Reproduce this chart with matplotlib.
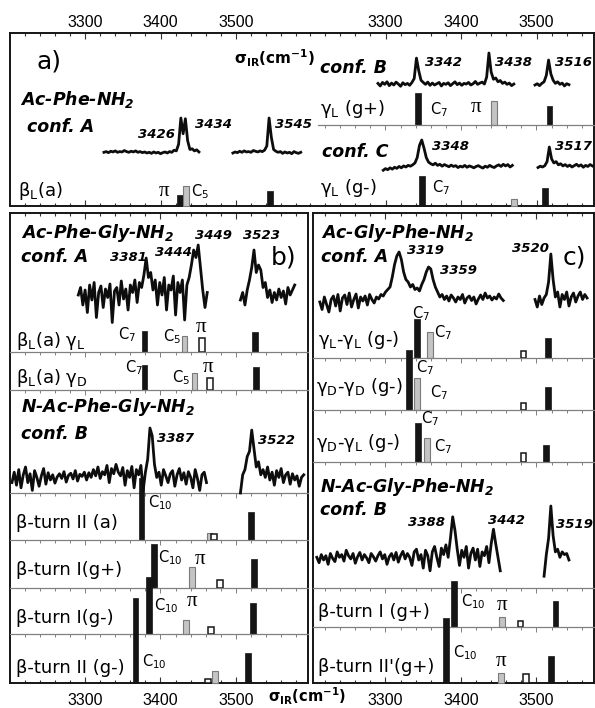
import numpy as np
import matplotlib
matplotlib.use("Agg")
import matplotlib.pyplot as plt
from matplotlib.ticker import FixedLocator, MultipleLocator

plt.rcParams['font.family'] = ['DejaVu Sans']
plt.rcParams['mathtext.default'] = 'regular'

# ------------------------------------------------------------------ data
STEP = 3

# a) Ac-Phe-NH2 conf. A
tA_start = [3325, 3496]
tA_seg1 = [2, 4, 1, 5, 3, 6, 2, 4, 3, 7, 4, 2, 5, 3, 6, 2, 4, 1, 3, 0, 2, -1, 3, 0, 2,
           -2, 1, 3, 0, 4, 2, 8, 6, 25, 100, 55, 98, 35, 10, 12, 6, 9, 3]
tA_seg2 = [0, 3, 1, 5, 2, 6, 3, 4, 2, 7, 5, 3, 6, 4, 8, 20, 100, 45, 10, 5, 2, 4, -1, 3,
           0, 2, -2, 4, 1, -1, 2]
# a) conf. B
tB_start = [3290, 3498]
tB_seg1 = [5, -3, 8, 2, 10, -2, 6, 0, 9, 3, -4, 7, 1, 5, -1, 8, 20, 84, 45, 15, 8,
           2, 9, -1, 6, 0, 4, 8, -3, 5, 2, 7, -2, 4, 10, 1, 6, -1, 5, 3, 8, 0, 4, 11, 2, 6, 9, 3,
           25, 100, 40, 18, 22, 10, 14, 5, 9, 2, 6, -2, 3]
tB_seg2 = [0, 4, -2, 5, 10, 30, 78, 35, 15, 5, 10, 2, 6, -3, 4, 1]
# a) conf. C
tC_start = [3297, 3502]
tC_seg1 = [-12, -6, -10, -3, -8, -1, -5, 2, -3, 4, 0, 6, 3, 8, 15, 35, 80, 100, 70, 35, 18, 12,
           8, 14, 6, 10, 3, 9, 5, 1, 7, 2, 5, -2, 3, 0, 6, -1, 4, 1, -3, 2, 5, 0, -4, 3, -1, 6,
           1, -2, 4, 8, 2, 10, 4, 9, 0, 6]
tC_seg2 = [-2, 3, 0, 5, 20, 74, 30, 15, 20, 8, 12, 4, 9, 2, 7, 0, 5, 10, 3, 8, -1, 6, 2, 9, 4]
# b) Ac-Phe-Gly-NH2 conf. A
tb1_start = [3291, 3506]
tb1_seg1 = [0, 15, -20, 10, -35, 20, -10, 25, -45, 5, 18, -25, 12, -5, 22, -55, 8, 15, -20,
            28, -8, 12, -30, 20, 5, 30, -15, 25, 15, 40, 74, 35, 45, 10, 30, -20, 25, 0, 35,
            -30, 20, 10, 38, -40, 25, 5, 30, -50, 20, 35, 60, 90, 75, 100, 55, 10, -25, 5]
tb1_seg2 = [-10, 5, -20, 10, 30, 55, 90, 45, 60, 50, 15, 25, -5, 10, -15, 5, -10, 12, -5, 8,
            -18, 15, 0, 10, 20]
# b) N-Ac-Phe-Gly-NH2 conf. B
tb2_start = [3203, 3506]
tb2_seg1 = [-5, 15, -10, 20, -15, 10, 25, -5, 12, -20, 18, 5, -12, 8, 22, -8, 14, 0, 10, -6,
            6, 12, 3, 16, -4, 9, 13, 2, 18, -2, 11, 7, 15, 0, 14, 5, 20, 8, 25, 3,
            16, 10, 28, -5, 22, 12, 30, 15, 8, 24, -10, 18, 5, 26, -15, 20, 10, 28, -20, 15,
            40, 100, 85, 30, 5,
            15, -10, 20, 8, -5, 12, 18, -12, 10, 22, 0, 14, -8, 16, 5, -15, 20, 3, -20, 10, 15, -5]
tb2_seg2 = [-25, 10, 20, 45, 55, 96, 60, 25, 35, 10, 20, 5, 25, 0, 15, -10, 18, 5, 22, -5,
            10, 15, -8, 12, 0, 8, -12, 5, 10]
# c) Ac-Gly-Phe-NH2 conf. A
tc1_start = [3213, 3498]
tc1_seg1 = [0, -15, 10, -5, -20, 5, 12, -8, 15, -18, 8, 14, -5, 18, -10, 5, 16, -12, 10, 2,
            12, -6, 15, 5, -2, 10, 6, 15, 12, 20, 25, 30, 50, 75, 92, 100, 85, 60, 45, 40,
            30, 35, 25, 28, 22, 35, 45, 60, 70, 66, 45, 30, 20, 10,
            15, 5, 12, 2, 14, 8, 0, 10, 5, 15, -2, 8, 12, 3, 10, -4, 6, 14, 5, 18, 8, 12, 4,
            10, 6, 16, 8, 3]
tc1_seg2 = [5, -10, 12, -5, 8, 15, 40, 96, 45, 10, 20, -10, 15, 5, 20, -8, 10, 18, 0, 12,
            20, 5, 15, 8]
# c) N-Ac-Gly-Phe-NH2 conf. B
tc2_start = [3209, 3510]
tc2_seg1 = [5, -5, 10, 0, 8, -8, 12, 3, -3, 15, 5, 10, -2, 18, 8, 2, 12, -6, 6, 14,
            0, 10, 4, -5, 12, 6, -2, 8, 15, 2, 10, -8, 6, 12, 0, 14, -4, 8, 16, 2,
            12, 5, -10, 15, 20, 0, 10, -15, 18, 8, -20, 15, 25, 5, -12, 22, 10, 28, 5, 40,
            80, 55, 20, -10, 18, 5, 25, -15, 12, 22, 0, 20, -12, 15, 8, 25, -5, 30,
            57, 30, 5, -20]
tc2_seg2 = [-30, 10, 40, 100, 45, 15, 20, 5, 15, 10, 12, 0]

# computed frequencies (cm-1), relative intensities, bar type (k: black, g: grey, o: open)
aA_wn, aA_int, aA_kind = [3426, 3434, 3545], [11, 20, 15], ['k', 'g', 'k']
aB_wn, aB_int, aB_kind = [3343, 3444, 3517], [32, 24, 19], ['k', 'g', 'k']
aC_wn, aC_int, aC_kind = [3348, 3470, 3511], [30, 7, 18], ['k', 'g', 'k']
b1_wn, b1_int, b1_kind = [3379, 3432, 3455, 3525], [21, 16, 14, 20], ['k', 'g', 'o', 'k']
b2_wn, b2_int, b2_kind = [3379, 3445, 3466, 3527], [25, 17, 12, 23], ['k', 'g', 'o', 'k']
b3_wn, b3_int, b3_kind = [3375, 3465, 3471, 3520], [62, 7, 6, 28], ['k', 'g', 'o', 'k']
b4_wn, b4_int, b4_kind = [3391, 3442, 3479, 3524], [44, 21, 8, 29], ['k', 'g', 'o', 'k']
b5_wn, b5_int, b5_kind = [3385, 3434, 3467, 3523], [57, 14, 7, 31], ['k', 'g', 'o', 'k']
b6_wn, b6_int, b6_kind = [3367, 3463, 3472, 3516], [85, 4, 12, 30], ['k', 'o', 'g', 'k']
c1_wn, c1_int, c1_kind = [3342, 3359, 3483, 3515], [39, 26, 7, 20], ['k', 'g', 'o', 'k']
c2_wn, c2_int, c2_kind = [3331, 3342, 3483, 3515], [60, 32, 7, 23], ['k', 'g', 'o', 'k']
c3_wn, c3_int, c3_kind = [3343, 3355, 3483, 3513], [39, 24, 9, 17], ['k', 'g', 'o', 'k']
c4_wn, c4_int, c4_kind = [3391, 3454, 3479, 3525], [46, 10, 6, 26], ['k', 'g', 'o', 'k']
c5_wn, c5_int, c5_kind = [3380, 3453, 3486, 3519], [65, 10, 9, 27], ['k', 'g', 'o', 'k']

major_ticks = [3300, 3400, 3500]

# ------------------------------------------------------------------ layout
W, H = 595, 708
fig = plt.figure(figsize=(W / 100, H / 100), dpi=100)

LEFT = (0.754, 160.5)    # px per cm-1, pixel x of 3400 cm-1
RIGHT = (0.755, 461.0)


def box(x0, y0, x1, y1):
    return [x0 / W, 1 - y1 / H, (x1 - x0) / W, (y1 - y0) / H]


def xl(x0, x1, m):
    k, c = m
    return (3400 + (x0 - c) / k, 3400 + (x1 - c) / k)


def frame(x0, y0, x1, y1, m, spines, labels):
    ax = fig.add_axes(box(x0, y0, x1, y1))
    ax.set_xlim(*xl(x0, x1, m))
    ax.set_ylim(0, 1)
    ax.set_yticks([])
    ax.patch.set_visible(False)
    for name, sp in ax.spines.items():
        sp.set_visible(name in spines)
        sp.set_linewidth(1.4)
        sp.set_color('#151515')
    ax.xaxis.set_major_locator(FixedLocator(major_ticks))
    ax.xaxis.set_minor_locator(MultipleLocator(20))
    ax.tick_params(axis='x', which='both', direction='in', top=True, bottom=True,
                   labeltop=(labels == 'top'), labelbottom=(labels == 'bottom'),
                   color='#333333', width=0.8, labelsize=11.5,
                   labelfontfamily='Liberation Sans')
    ax.tick_params(axis='x', which='major', length=4.5, pad=(2.5 if labels == 'top' else 7.5))
    ax.tick_params(axis='x', which='minor', length=2.5)
    return ax


def row(x0, y0, x1, y1, m, sep=True):
    ax = fig.add_axes(box(x0, y0, x1, y1))
    ax.set_xlim(*xl(x0, x1, m))
    ax.set_ylim(0, y1 - y0)
    ax.patch.set_visible(False)
    ax.set_yticks([])
    for sp in ax.spines.values():
        sp.set_visible(False)
    if sep:
        ax.spines['top'].set_visible(True)
        ax.spines['top'].set_color('#808080')
        ax.spines['top'].set_linewidth(0.9)
        ax.xaxis.set_major_locator(FixedLocator(major_ticks))
        ax.xaxis.set_minor_locator(MultipleLocator(20))
        ax.tick_params(axis='x', which='both', direction='in', top=True, bottom=False,
                       labeltop=False, labelbottom=False, color='#808080', width=0.7)
        ax.tick_params(axis='x', which='major', length=3.5)
        ax.tick_params(axis='x', which='minor', length=2.2)
    else:
        ax.set_xticks([])
    return ax


STY = {'k': dict(color='#151515', edgecolor='#151515', linewidth=0.5),
       'g': dict(color='#c4c4c4', edgecolor='#7a7a7a', linewidth=0.8),
       'o': dict(color='white', edgecolor='#151515', linewidth=1.1)}


def bars(ax, wn, inten, kind):
    for w, h, k in zip(wn, inten, kind):
        ax.bar(w, h, width=7.5, bottom=0, clip_on=False, zorder=3, **STY[k])


def trace(x0, x1, top, base, m, starts, segs):
    ax = fig.add_axes(box(x0, top, x1, base))
    ax.set_xlim(*xl(x0, x1, m))
    ax.set_ylim(0, 100)
    ax.axis('off')
    for s, seg in zip(starts, segs):
        x = s + STEP * np.arange(len(seg))
        ax.plot(x, seg, color='#0d0d0d', lw=2.0, clip_on=False,
                solid_joinstyle='round', zorder=4)


def T(x, y, s, size, **kw):
    kw.setdefault('ha', 'left')
    kw.setdefault('va', 'center')
    fig.text(x / W, 1 - y / H, s, fontsize=size, **kw)


NAME = dict(fontweight='bold', fontstyle='italic')
PEAK = dict(fontweight='bold', fontstyle='italic')
PI = dict(family='Liberation Serif')

# ---------------- frames
frame(10, 33, 310, 206, LEFT, ('left', 'top', 'bottom'), 'top')
frame(310, 33, 594, 206, RIGHT, ('right', 'top', 'bottom'), 'top')
frame(10, 213, 308, 683, LEFT, ('left', 'right', 'top', 'bottom'), 'bottom')
frame(313, 213, 594, 683, RIGHT, ('left', 'right', 'top', 'bottom'), 'bottom')

# ---------------- panel a
bars(row(10, 33, 310, 206, LEFT, sep=False), aA_wn, aA_int, aA_kind)
bars(row(310, 33, 594, 125, RIGHT, sep=False), aB_wn, aB_int, aB_kind)
bars(row(318, 125, 594, 206, RIGHT, sep=True), aC_wn, aC_int, aC_kind)
trace(10, 310, 118, 153, LEFT, tA_start, [tA_seg1, tA_seg2])
trace(310, 594, 53, 85, RIGHT, tB_start, [tB_seg1, tB_seg2])
trace(310, 594, 140, 167, RIGHT, tC_start, [tC_seg1, tC_seg2])

# ---------------- panel b
bars(row(10, 213, 308, 352, LEFT, sep=False), b1_wn, b1_int, b1_kind)
bars(row(10, 352, 308, 390, LEFT), b2_wn, b2_int, b2_kind)
row(10, 390, 308, 493, LEFT)
bars(row(10, 493, 308, 540, LEFT), b3_wn, b3_int, b3_kind)
bars(row(10, 540, 308, 588, LEFT), b4_wn, b4_int, b4_kind)
bars(row(10, 588, 308, 634, LEFT), b5_wn, b5_int, b5_kind)
bars(row(10, 634, 308, 683, LEFT), b6_wn, b6_int, b6_kind)
trace(10, 308, 245, 295, LEFT, tb1_start, [tb1_seg1, tb1_seg2])
trace(10, 308, 428, 480, LEFT, tb2_start, [tb2_seg1, tb2_seg2])

# ---------------- panel c
bars(row(313, 213, 594, 358, RIGHT, sep=False), c1_wn, c1_int, c1_kind)
bars(row(313, 358, 594, 410, RIGHT), c2_wn, c2_int, c2_kind)
bars(row(313, 410, 594, 462, RIGHT), c3_wn, c3_int, c3_kind)
row(313, 462, 594, 588, RIGHT)
bars(row(313, 588, 594, 627, RIGHT), c4_wn, c4_int, c4_kind)
bars(row(313, 627, 594, 683, RIGHT), c5_wn, c5_int, c5_kind)
trace(313, 594, 252, 302, RIGHT, tc1_start, [tc1_seg1, tc1_seg2])
trace(313, 594, 506, 560, RIGHT, tc2_start, [tc2_seg1, tc2_seg2])

# ---------------- texts: panel a
T(36, 61, 'a)', 18)
T(234, 58, r'$\sigma_{IR}$(cm$^{-1}$)', 11, fontweight='bold')
T(20, 100, r'Ac-Phe-NH$_2$', 12.5, **NAME)
T(27, 127, 'conf. A', 12.5, **NAME)
T(138, 134, '3426', 9.5, **PEAK)
T(195, 125, '3434', 9.5, **PEAK)
T(275, 125, '3545', 9.5, **PEAK)
T(18, 191, r'β$_{L}$(a)', 13)
T(159, 191, 'π', 15, **PI)
T(191, 192, r'C$_5$', 10.5)

T(320, 68, 'conf. B', 12.5, **NAME)
T(425, 62, '3342', 9.5, **PEAK)
T(495, 62, '3438', 9.5, **PEAK)
T(555, 62, '3516', 9.5, **PEAK)
T(320, 109, r'γ$_{L}$ (g+)', 13)
T(430, 110, r'C$_7$', 10.5)
T(471, 107, 'π', 15, **PI)
T(322, 152, 'conf. C', 12.5, **NAME)
T(432, 146, '3348', 9.5, **PEAK)
T(555, 146, '3517', 9.5, **PEAK)
T(320, 188, r'γ$_{L}$ (g-)', 13)
T(432, 188, r'C$_7$', 10.5)

# ---------------- texts: panel b
T(21, 233, r'Ac-Phe-Gly-NH$_2$', 12.5, **NAME)
T(21, 257, 'conf. A', 12.5, **NAME)
T(110, 257, '3381', 9.5, **PEAK)
T(155, 253, '3444', 9.5, **PEAK)
T(195, 236, '3449', 9.5, **PEAK)
T(243, 236, '3523', 9.5, **PEAK)
T(271, 258, 'b)', 18)
T(16, 341, r'β$_{L}$(a) γ$_{L}$', 13)
T(118, 335, r'C$_7$', 10.5)
T(163, 337, r'C$_5$', 10.5)
T(196, 327, 'π', 15, **PI)
T(16, 378, r'β$_{L}$(a) γ$_{D}$', 13)
T(125, 368, r'C$_7$', 10.5)
T(172, 378, r'C$_5$', 10.5)
T(203, 367, 'π', 15, **PI)
T(21, 407, r'N-Ac-Phe-Gly-NH$_2$', 12.5, **NAME)
T(21, 434, 'conf. B', 12.5, **NAME)
T(157, 438, '3387', 9.5, **PEAK)
T(258, 440, '3522', 9.5, **PEAK)
T(16, 523, 'β-turn II (a)', 13)
T(148, 503, r'C$_{10}$', 10.5)
T(16, 570, 'β-turn I(g+)', 13)
T(158, 558, r'C$_{10}$', 10.5)
T(195, 559, 'π', 15, **PI)
T(16, 618, 'β-turn I(g-)', 13)
T(154, 606, r'C$_{10}$', 10.5)
T(187, 602, 'π', 15, **PI)
T(16, 668, 'β-turn II (g-)', 13)
T(142, 662, r'C$_{10}$', 10.5)

# ---------------- texts: panel c
T(321, 233, r'Ac-Gly-Phe-NH$_2$', 12.5, **NAME)
T(321, 257, 'conf. A', 12.5, **NAME)
T(407, 251, '3319', 9.5, **PEAK)
T(440, 270, '3359', 9.5, **PEAK)
T(512, 248, '3520', 9.5, **PEAK)
T(563, 258, 'c)', 18)
T(318, 340, r'γ$_{L}$-γ$_{L}$ (g-)', 13)
T(412, 314, r'C$_7$', 10.5)
T(434, 333, r'C$_7$', 10.5)
T(316, 387, r'γ$_{D}$-γ$_{D}$ (g-)', 13)
T(416, 368, r'C$_7$', 10.5)
T(430, 393, r'C$_7$', 10.5)
T(316, 443, r'γ$_{D}$-γ$_{L}$ (g-)', 13)
T(421, 419, r'C$_7$', 10.5)
T(434, 447, r'C$_7$', 10.5)
T(320, 487, r'N-Ac-Gly-Phe-NH$_2$', 12.5, **NAME)
T(320, 510, 'conf. B', 12.5, **NAME)
T(408, 522, '3388', 9.5, **PEAK)
T(488, 520, '3442', 9.5, **PEAK)
T(556, 525, '3519', 9.5, **PEAK)
T(318, 612, 'β-turn I (g+)', 13)
T(461, 602, r'C$_{10}$', 10.5)
T(497, 606, 'π', 15, **PI)
T(318, 667, "β-turn II'(g+)", 13)
T(453, 653, r'C$_{10}$', 10.5)
T(496, 662, 'π', 15, **PI)

# bottom axis title
T(307, 696, r'$\sigma_{IR}$(cm$^{-1}$)', 10.5, fontweight='bold', ha='center')

fig.savefig('out.png', dpi=100)
